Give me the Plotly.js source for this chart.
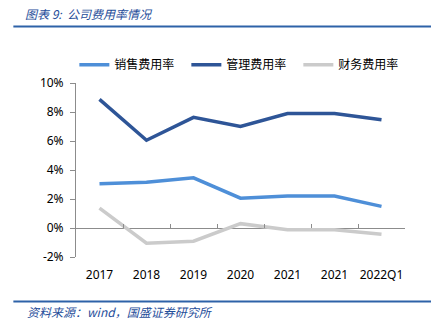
<!DOCTYPE html>
<html>
<head>
<meta charset="utf-8">
<script src="https://cdn.plot.ly/plotly-3.0.1.min.js"></script>
<style>html,body{margin:0;padding:0;background:#fff;}#chart{width:446px;height:336px;}</style>
</head>
<body>
<div id="chart"></div>
<script>
const categories = ["2017", "2018", "2019", "2020", "2021", "2021", "2022Q1"];
const salesRate = [3.05, 3.16, 3.46, 2.06, 2.2, 2.2, 1.49];
const mgmtRate = [8.87, 6.05, 7.63, 7.01, 7.9, 7.9, 7.47];
const finRate = [1.37, -1.05, -0.91, 0.3, -0.12, -0.12, -0.43];
const seriesNames = ["销售费用率", "管理费用率", "财务费用率"];
const yTicks = [-2, 0, 2, 4, 6, 8, 10];
const yTickText = yTicks.map(v => v + '%');

const idx = categories.map((c, i) => i);
const boundaries = categories.map((c, i) => i + 0.5);

const cjk = '"Noto Sans CJK SC", "Noto Sans", sans-serif';
const traces = [
  {x: idx, y: salesRate, name: seriesNames[0], type: 'scatter', mode: 'lines', line: {color: '#4E8FD8', width: 3.5}},
  {x: idx, y: mgmtRate, name: seriesNames[1], type: 'scatter', mode: 'lines', line: {color: '#2E5597', width: 3.5}},
  {x: idx, y: finRate, name: seriesNames[2], type: 'scatter', mode: 'lines', line: {color: '#CBCBCB', width: 3.5}},
  {x: [0], y: [null], xaxis: 'x2', yaxis: 'y', showlegend: false, hoverinfo: 'skip', mode: 'lines'}
];

const layout = {
  width: 446, height: 336,
  margin: {l: 75.7, r: 41, t: 82.7, b: 78.7, pad: 0},
  paper_bgcolor: '#fff', plot_bgcolor: '#fff',
  showlegend: true,
  legend: {orientation: 'h', x: -0.005, xanchor: 'left', y: 1.105, yanchor: 'middle',
           font: {family: cjk, size: 12, color: '#000'}, itemwidth: 30, tracegroupgap: 0,
           entrywidth: 67, entrywidthmode: 'pixels'},
  xaxis: {range: [-0.5, 6.5], tickvals: idx, ticktext: categories, ticks: '', showline: false,
          showgrid: false, zeroline: false, ticklabelstandoff: 9,
          tickfont: {family: 'Noto Sans, sans-serif', size: 12, color: '#000'}},
  xaxis2: {range: [-0.5, 6.5], overlaying: 'x', anchor: 'free', position: 1/6, side: 'bottom',
           tickvals: boundaries, ticks: 'inside', ticklen: 4, tickcolor: '#8C8C8C',
           showticklabels: false, showline: false, showgrid: false, zeroline: false},
  yaxis: {range: [-2, 10], tickvals: yTicks, ticktext: yTickText, ticks: 'outside', ticklen: 5,
          tickcolor: '#8C8C8C', showline: true, linecolor: '#8C8C8C', linewidth: 1,
          showgrid: false, zeroline: true, zerolinecolor: '#8C8C8C', zerolinewidth: 1,
          ticklabelstandoff: 4,
          tickfont: {family: 'Noto Sans, sans-serif', size: 12, color: '#000'}},
  shapes: [
    {type: 'line', xref: 'paper', yref: 'paper', x0: -0.1904, x1: 1.079, y0: 1.3247, y1: 1.3247,
     line: {color: '#2E62A8', width: 2}},
    {type: 'line', xref: 'paper', yref: 'paper', x0: -0.1904, x1: 1.079, y0: -0.256, y1: -0.256,
     line: {color: '#2E62A8', width: 2}}
  ],
  annotations: [
    {text: '<i>图表 9:  公司费用率情况</i>', xref: 'paper', yref: 'paper', x: -0.1610, y: 1.397,
     xanchor: 'left', yanchor: 'middle', showarrow: false,
     font: {family: cjk, size: 12, color: '#1F4E9A'}},
    {text: '<i>资料来源：wind，国盛证券研究所</i>', xref: 'paper', yref: 'paper', x: -0.1540, y: -0.313,
     xanchor: 'left', yanchor: 'middle', showarrow: false,
     font: {family: cjk, size: 12, color: '#1F4E9A'}}
  ]
};

Plotly.newPlot('chart', traces, layout, {displayModeBar: false, staticPlot: true});
</script>
</body>
</html>
